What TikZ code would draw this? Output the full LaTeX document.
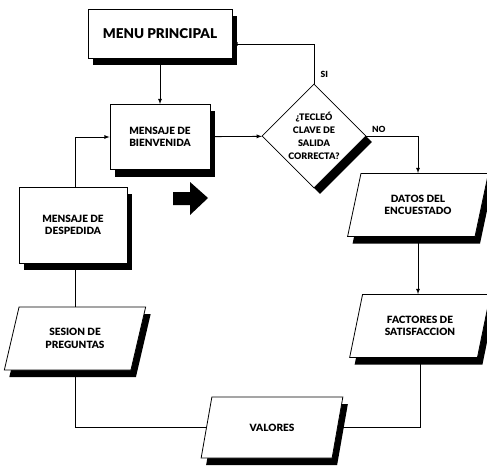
\documentclass[tikz,border=0pt]{standalone}
\usepackage{fontspec}
\setmainfont{Lato}[BoldFont={Lato Black}]
\usetikzlibrary{shapes.geometric,shadows}
\begin{document}
\begin{tikzpicture}[x=1pt,y=-1pt,>=latex,line width=0.8pt,
	sombra/.style={drop shadow={shadow xshift=5pt,shadow yshift=-7pt,fill=black,opacity=1}},
	base/.style={draw,fill=white,align=center,font=\bfseries\fontsize{10}{12.5}\selectfont},
	box/.style={base,sombra,rectangle},
	entrada/.style={base,sombra,trapezium,trapezium left angle=72,trapezium right angle=108,
		trapezium stretches=true,minimum width=142pt,minimum height=63pt},
	pregunta/.style={base,diamond,aspect=1,inner sep=0pt,minimum size=104pt,
		drop shadow={shadow xshift=6pt,shadow yshift=-6pt,fill=black,opacity=1}},
	etiqueta/.style={font=\bfseries\fontsize{8.5}{10}\selectfont}]
	\useasboundingbox (0,0) rectangle (487,468);

	% cajas
	\node[box,minimum width=144pt,minimum height=49pt,font=\bfseries\fontsize{13.5}{15}\selectfont] (menu) at (160,33.5) {MENU PRINCIPAL};
	\node[box,minimum width=100pt,minimum height=65pt] (bienv) at (160,137) {MENSAJE DE\\BIENVENIDA};
	\node[pregunta,font=\bfseries\fontsize{9}{13}\selectfont] (clave) at (314,136) {¿TECLEÓ\\CLAVE DE\\SALIDA\\CORRECTA?};
	\node[box,minimum width=108pt,minimum height=76pt] (desp) at (73,225) {MENSAJE DE\\DESPEDIDA};
	\node[entrada] (sesion) at (75,338.5) {SESION DE\\PREGUNTAS};
	\node[entrada,minimum height=61pt] (valores) at (272,427.5) {VALORES};
	\node[entrada] (datos) at (418,205) {DATOS DEL\\ENCUESTADO};
	\node[entrada] (factores) at (420,326) {FACTORES DE\\SATISFACCION};

	% conectores
	\draw[->] (menu) -- (bienv);
	\draw[->] (bienv) -- (clave);
	\draw[->] (clave.north) |- node[etiqueta,pos=0.11,right=3pt] {SI} ([yshift=-10.5pt]menu.east);
	\draw[->] (clave.east) -| node[etiqueta,pos=0.12,above] {NO} (datos.north);
	\draw[->] (datos.south) -- (datos.south |- factores.north);
	\draw (factores.south) |- (valores.east);
	\draw[->] (valores.west) -| (sesion.south);
	\draw (sesion.north) -- (sesion.north |- desp.south);
	\draw[->] (desp.north -| sesion.north) |- (bienv);

	% flecha gruesa
	\fill (173,192) -- (190,192) -- (190,182) -- (208,198) -- (190,215) -- (190,205) -- (173,205) -- cycle;
\end{tikzpicture}
\end{document}
